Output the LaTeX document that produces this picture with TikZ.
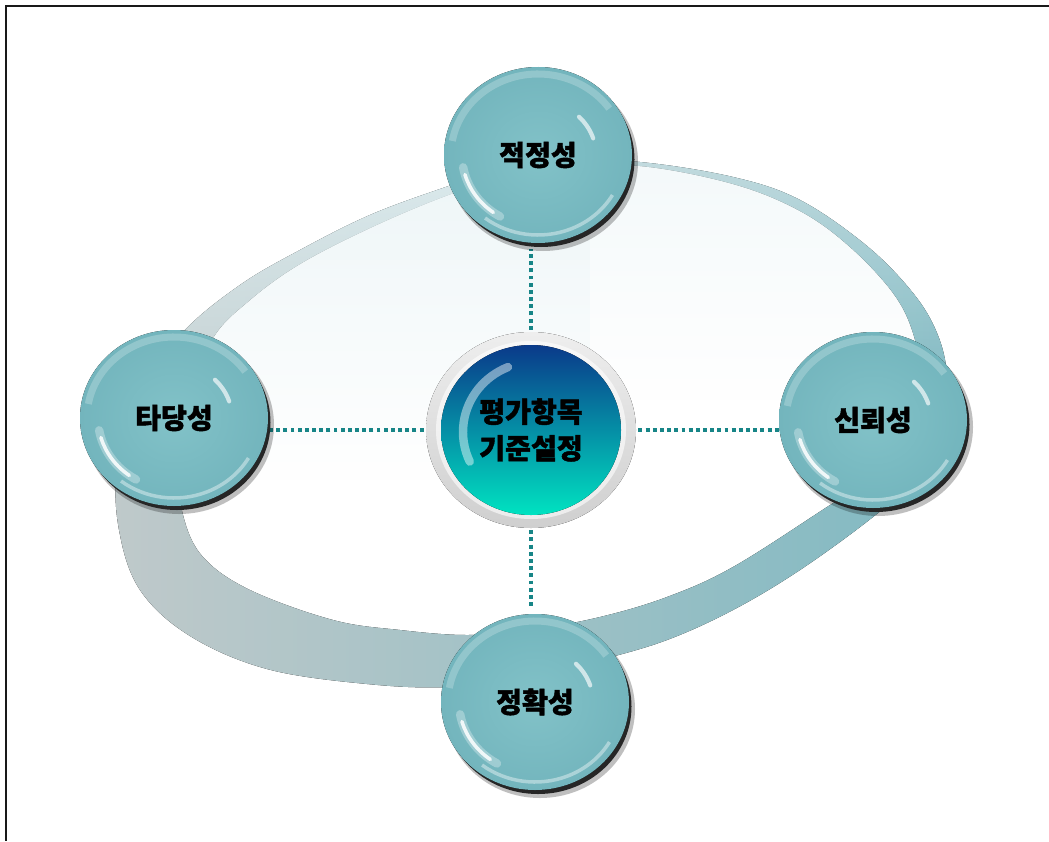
\documentclass[tikz,border=0pt]{standalone}
\usepackage{fontspec}
\newfontfamily\kr{Noto Sans CJK KR}[BoldFeatures={FakeBold=1.6}]
\usetikzlibrary{fadings}

\pgfdeclarelayer{back}
\pgfsetlayers{back,main}

\definecolor{ringL}{HTML}{BFC9CA}
\definecolor{ringM}{HTML}{ADC6CA}
\definecolor{ringR}{HTML}{80B9C2}
\definecolor{ringTop}{HTML}{EAF4F6}
\definecolor{bubIn}{HTML}{82C2C8}
\definecolor{bubOut}{HTML}{73B5BD}
\definecolor{dotcol}{HTML}{178587}
\definecolor{hubTop}{HTML}{0A3A8A}
\definecolor{hubMid}{HTML}{0A8DB8}
\definecolor{hubBot}{HTML}{00E3C1}
\definecolor{rimTop}{HTML}{EEEEEE}
\definecolor{rimBot}{HTML}{CFCFCF}

% opaque at the top, clear at the bottom
\tikzfading[name=fadedown, top color=transparent!0, bottom color=transparent!100]

% outline of the tilted band: outer and inner edge
\newcommand\ringshape{%
  plot[smooth cycle, tension=0.6] coordinates {
    (560,160) (640,162) (733,177) (800,200) (867,246) (913,293) (937,333)
    (947,375) (944,425) (920,475) (873,517) (800,570) (733,610) (667,640)
    (600,660) (530,677) (450,687) (367,684) (267,669) (190,636) (140,590)
    (119,530) (117,465) (136,395) (183,332) (240,285) (300,250) (370,215)
    (443,188) (500,170)}
  plot[smooth cycle, tension=0.6] coordinates {
    (560,168) (640,166) (733,184) (800,211) (850,247) (893,293) (913,333)
    (919,375) (910,425) (880,472) (827,507) (733,567) (667,597) (600,617)
    (530,630) (467,635) (400,630) (333,620) (250,590) (203,557) (183,515)
    (179,465) (188,400) (213,338) (250,300) (300,264) (370,228) (443,197)
    (500,179)}}

% glossy teal sphere drawn around a named node
\newcommand\bubbleart[1]{%
  \begin{scope}[shift={(#1)}, yscale=-1]
    \fill[black, opacity=.25] (5,-7) ellipse [x radius=95, y radius=89];
    \fill[black!85] (3,-4.5) ellipse [x radius=93.5, y radius=87.5];
    \fill[inner color=bubIn, outer color=bubOut] (0,0) ellipse [x radius=94, y radius=88];
    \draw[white, opacity=.22, line width=5pt]
      ({87*cos(35)},{81*sin(35)}) arc[start angle=35, end angle=170, x radius=87, y radius=81];
    \draw[white, opacity=.4, line width=2.5pt]
      ({86*cos(232)},{80*sin(232)}) arc[start angle=232, end angle=330, x radius=86, y radius=80];
    \draw[white, opacity=.3, line width=6pt, line cap=round]
      ({76*cos(190)},{71*sin(190)}) arc[start angle=190, end angle=240, x radius=76, y radius=71];
    \draw[white, opacity=.85, line width=2.5pt, line cap=round]
      ({76*cos(196)},{71*sin(196)}) arc[start angle=196, end angle=234, x radius=76, y radius=71];
    \draw[white, opacity=.65, line width=3pt, line cap=round]
      ({58*cos(18)},{54*sin(18)}) arc[start angle=18, end angle=45, x radius=58, y radius=54];
  \end{scope}}

\begin{document}
\begin{tikzpicture}[x=0.025cm, y=-0.025cm,
  bub/.style={circle, minimum size=4.7cm, inner sep=0pt,
    font=\kr\bfseries\fontsize{20pt}{24pt}\selectfont},
  hubnode/.style={circle, minimum size=5.0cm, inner sep=0pt, align=center,
    font=\kr\bfseries\fontsize{20pt}{26pt}\selectfont},
  dotline/.style={dotcol, line width=2.8pt, dash pattern=on 2.8pt off 2.3pt},
  frame/.style={line width=0.9pt, black!90}]

\useasboundingbox (0,0) rectangle (1049,841);
\draw[frame] (1049,6) -- (6,6) -- (6,841);

% nodes
\node[bub] (topB) at (538,155) {적정성};
\node[bub] (leftB) at (174,418) {타당성};
\node[bub] (rightB) at (873,420) {신뢰성};
\node[bub] (botB) at (535,702) {정확성};
\node[hubnode] (hub) at (531,430) {평가항목\\기준설정};

\begin{pgfonlayer}{back}
  \fill[white] (0,0) rectangle (1049,841);
  % the tilted band behind the spheres: grey on the left, teal on the right
  \fill[even odd rule, left color=ringL, middle color=ringM, right color=ringR] \ringshape;
  % paler along the top, strongest on the upper left
  \begin{scope}
    \clip \ringshape;
    \fill[ringTop, fill opacity=.85, path fading=fadedown] (90,150) rectangle (590,480);
    \fill[ringTop, fill opacity=.55, path fading=fadedown] (590,150) rectangle (980,400);
  \end{scope}

  % dotted links from the hub to the four spheres
  \draw[dotline] (hub.north) -- (hub.north |- topB.south);
  \draw[dotline] (hub.south) -- (hub.south |- botB.north);
  \draw[dotline] (hub.west) -- (hub.west -| leftB.east);
  \draw[dotline] (hub.east) -- (hub.east -| rightB.west);

  \bubbleart{topB}
  \bubbleart{leftB}
  \bubbleart{rightB}
  \bubbleart{botB}

  % central hub: grey rim, blue-to-aqua disc, gloss
  \begin{scope}[shift={(hub)}, yscale=-1]
    \fill[top color=rimTop, bottom color=rimBot] (0,0) ellipse [x radius=105, y radius=98];
    \fill[white, opacity=.6] (0,0) ellipse [x radius=95, y radius=89];
    \fill[top color=hubTop, middle color=hubMid, bottom color=hubBot] (0,0) ellipse [x radius=90, y radius=85];
    \draw[white, opacity=.45, line width=6pt, line cap=round]
      ({4+72*cos(112)},{-2+70*sin(112)}) arc[start angle=112, end angle=205, x radius=72, y radius=70];
  \end{scope}
\end{pgfonlayer}
\end{tikzpicture}
\end{document}
